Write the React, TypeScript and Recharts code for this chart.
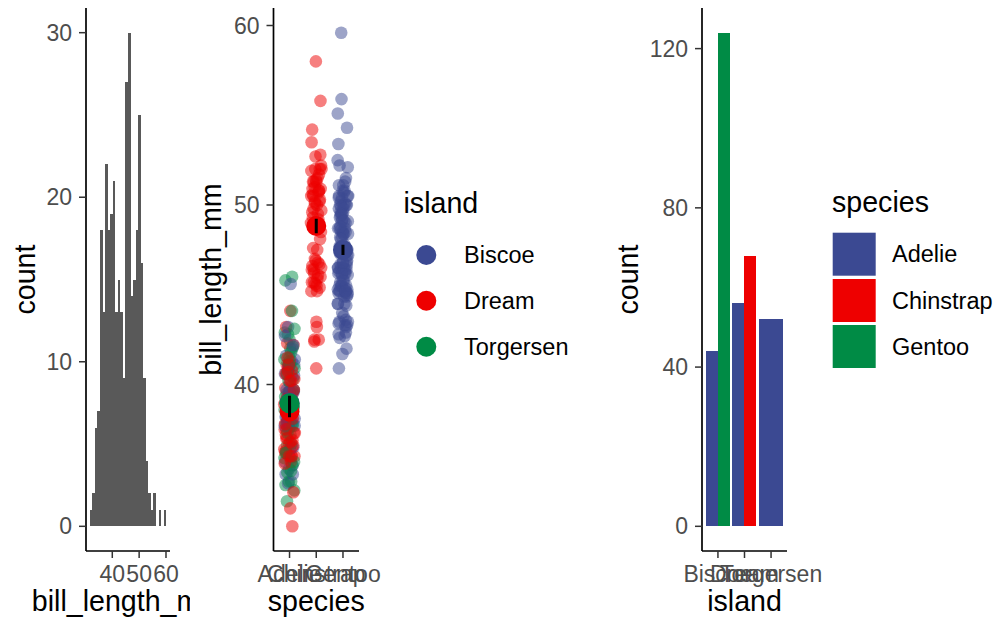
import React from 'react'
import { BarChart, Bar, Cell, XAxis, YAxis, ScatterChart, Scatter, Label } from 'recharts'

const FONT = '"Liberation Sans", Arial, Helvetica, sans-serif'
const BLUE = '#3B4992'
const RED = '#EE0000'
const GREEN = '#008B45'
const HIST_GREY = '#595959'

// --- panel 1: histogram of bill_length_mm, 30 bins ---
const histCounts = [1, 2, 6, 7, 18, 13, 22, 18, 19, 21, 13, 15, 13, 9, 27, 30, 14, 15, 18, 25, 16, 9, 4, 2, 1, 2, 0, 1, 0, 1]
const HIST_START = 31.626
const HIST_WIDTH = 0.9483

// --- panel 2: bill lengths, kept in the data's row order (year chunks) ---
const adelieTorgersen07 = [39.1, 39.5, 40.3, 36.7, 39.3, 38.9, 39.2, 34.1, 42.0, 37.8, 37.8, 41.1, 38.6, 34.6, 36.6, 38.7, 42.5, 34.4, 46.0]
const adelieBiscoe07 = [37.8, 37.7, 35.9, 38.2, 38.8, 35.3, 40.6, 40.5, 37.9, 40.5]
const adelieDream07 = [39.5, 37.2, 39.5, 40.9, 36.4, 39.2, 38.8, 42.2, 37.6, 39.8, 36.5, 40.8, 36.0, 44.1, 37.0, 39.6, 41.1, 37.5, 36.0, 42.3]
const adelieBiscoe08 = [39.6, 40.1, 35.0, 42.0, 34.5, 41.4, 39.0, 40.6, 36.5, 37.6, 35.7, 41.3, 37.6, 41.1, 36.4, 41.6, 35.5, 41.1]
const adelieTorgersen08 = [35.9, 41.8, 33.5, 39.7, 39.6, 45.8, 35.5, 42.8, 40.9, 37.2, 36.2, 42.1, 34.6, 42.9, 36.7, 35.1]
const adelieDream08 = [37.3, 41.3, 36.3, 36.9, 38.3, 38.9, 35.7, 41.1, 34.0, 39.6, 36.2, 40.8, 38.1, 40.3, 33.1, 43.2]
const adelieBiscoe09 = [35.0, 41.0, 37.7, 37.8, 37.9, 39.7, 38.6, 38.2, 38.1, 43.2, 38.1, 45.6, 39.7, 42.2, 39.6, 42.7]
const adelieTorgersen09 = [38.6, 37.3, 35.7, 41.1, 36.2, 37.7, 40.2, 41.4, 35.2, 40.6, 38.8, 41.5, 39.0, 44.1, 38.5, 43.1]
const adelieDream09 = [36.8, 37.5, 38.1, 41.1, 35.6, 40.2, 37.0, 39.7, 40.2, 40.6, 32.1, 40.7, 37.3, 39.0, 39.2, 36.6, 36.0, 37.8, 36.0, 41.5]
const gentooBiscoe = [
  46.1, 50.0, 48.7, 50.0, 47.6, 46.5, 45.4, 46.7, 43.3, 46.8, 40.9, 49.0, 45.5, 48.4, 45.8, 49.3, 42.0, 49.2, 46.2, 48.7,
  50.2, 45.1, 46.5, 46.3, 42.9, 46.1, 44.5, 47.8, 48.2, 50.0, 47.3, 42.8, 45.1, 59.6, 49.1, 48.4, 42.6, 44.4, 44.0, 48.7,
  42.7, 49.6, 45.3, 49.6, 50.5, 43.6, 45.5, 50.5, 44.9, 45.2, 46.6, 48.5, 45.1, 50.1, 46.5, 45.0, 43.8, 45.5, 43.2, 50.4,
  45.3, 46.2, 45.7, 54.3, 45.8, 49.8, 46.2, 49.5, 43.5, 50.7, 47.7, 46.4, 48.2, 46.5, 46.4, 48.6, 47.5, 51.1, 45.2, 45.2,
  49.1, 52.5, 47.4, 50.0, 44.9, 50.8, 43.4, 51.3, 47.5, 52.1, 47.5, 52.2, 45.5, 49.5, 44.5, 50.8, 49.4, 46.9, 48.4, 51.1,
  48.5, 55.9, 47.2, 49.1, 47.3, 46.8, 41.7, 53.4, 43.3, 48.1, 50.5, 49.8, 43.5, 51.5, 46.2, 55.1, 44.5, 48.8, 47.2, 46.8,
  50.4, 45.2, 49.9,
]
const chinstrapDream = [
  46.5, 50.0, 51.3, 45.4, 52.7, 45.2, 46.1, 51.3, 46.0, 51.3, 46.6, 51.7, 47.0, 52.0, 45.9, 50.5, 50.3, 58.0, 46.4, 49.2,
  42.4, 48.5, 43.2, 50.6, 46.7, 52.0, 50.5, 49.5, 46.4, 52.8, 40.9, 54.2, 42.5, 51.0, 49.7, 47.5, 47.6, 52.0, 46.9, 53.5,
  49.0, 46.2, 50.9, 45.5, 50.9, 50.8, 50.1, 49.0, 51.5, 49.8, 48.1, 51.4, 45.7, 50.7, 42.5, 52.2, 45.2, 49.3, 50.2, 45.6,
  51.9, 46.8, 45.7, 55.8, 43.5, 49.6, 50.8, 50.2,
]

// summary per species x island (mean, standard error)
const meanSpecies = [1, 1, 1, 2, 3]
const meanIsland = ['Biscoe', 'Dream', 'Torgersen', 'Dream', 'Biscoe']
const meanValues = [38.98, 38.5, 38.95, 48.83, 47.5]
const meanSe = [0.37, 0.33, 0.43, 0.41, 0.28]

// --- panel 3: counts per island ---
const islands = ['Biscoe', 'Dream', 'Torgersen']
const adelieCounts = [44, 56, 52]
const chinstrapCounts = [0, 68, 0]
const gentooCounts = [124, 0, 0]

const speciesNames = ['Adelie', 'Chinstrap', 'Gentoo']
const islandColor: Record<string, string> = { Biscoe: BLUE, Dream: RED, Torgersen: GREEN }

const histData = histCounts.map((count, i) => ({ mid: HIST_START + HIST_WIDTH * (i + 0.5), count }))

const pointGroups = [
  { island: 'Torgersen', species: 1, values: adelieTorgersen07 },
  { island: 'Biscoe', species: 1, values: adelieBiscoe07 },
  { island: 'Dream', species: 1, values: adelieDream07 },
  { island: 'Biscoe', species: 1, values: adelieBiscoe08 },
  { island: 'Torgersen', species: 1, values: adelieTorgersen08 },
  { island: 'Dream', species: 1, values: adelieDream08 },
  { island: 'Biscoe', species: 1, values: adelieBiscoe09 },
  { island: 'Torgersen', species: 1, values: adelieTorgersen09 },
  { island: 'Dream', species: 1, values: adelieDream09 },
  { island: 'Biscoe', species: 3, values: gentooBiscoe },
  { island: 'Dream', species: 2, values: chinstrapDream },
]

// deterministic jitter (golden ratio steps), +-0.2 of a category
let jitterIdx = 0
const jitteredGroups = pointGroups.map((g) => ({
  color: islandColor[g.island],
  data: g.values.map((y) => {
    jitterIdx += 1
    return { x: g.species + (((jitterIdx * 0.6180339887) % 1) - 0.5) * 0.4, y }
  }),
}))

const meanData = meanValues.map((y, i) => ({ x: meanSpecies[i], y, color: islandColor[meanIsland[i]] }))

// mean +- se as two-point segments
const seSegments = meanValues.map((m, i) => [
  { x: meanSpecies[i], y: m - meanSe[i] },
  { x: meanSpecies[i], y: m + meanSe[i] },
])

const barTable = islands.map((island, i) => {
  const other = gentooCounts[i] || chinstrapCounts[i]
  return {
    island,
    left: adelieCounts[i],
    right: other || adelieCounts[i],
    rightColor: gentooCounts[i] ? GREEN : chinstrapCounts[i] ? RED : BLUE,
  }
})

const tickText = { fill: '#4D4D4D', fontSize: 23, fontFamily: FONT }
const axisLine = { stroke: '#000000', strokeWidth: 1.7 }
const tickLine = { stroke: '#333333', strokeWidth: 1.5 }

const xTitle = (text: string) => (props: any) => {
  const vb = props.viewBox || { x: 0, width: 0 }
  return (
    <text x={vb.x + vb.width / 2} y={611} textAnchor="middle" fontSize={28.6} fontFamily={FONT} fill="#000">
      {text}
    </text>
  )
}

// x is in the panel's own coordinates
const yTitle = (text: string, x: number) => (props: any) => {
  const vb = props.viewBox || { y: 8, height: 543 }
  const cy = vb.y + vb.height / 2
  return (
    <text x={x} y={cy} transform={`rotate(-90 ${x} ${cy})`} textAnchor="middle" fontSize={28.6} fontFamily={FONT} fill="#000">
      {text}
    </text>
  )
}

function HistPanel() {
  return (
    <BarChart width={190} height={623} data={histData} margin={{ top: 8, right: 20, bottom: 32, left: 0 }} barGap={0}>
      <XAxis
        dataKey="mid"
        type="number"
        domain={[30.21, 61.49]}
        ticks={[40, 50, 60]}
        allowDataOverflow
        interval={0}
        height={40}
        tick={tickText}
        tickSize={7}
        tickMargin={8}
        axisLine={axisLine}
        tickLine={tickLine}
      >
        <Label content={xTitle('bill_length_mm')} />
      </XAxis>
      <YAxis
        type="number"
        domain={[-1.5, 31.5]}
        ticks={[0, 10, 20, 30]}
        allowDataOverflow
        interval={0}
        width={86}
        tick={tickText}
        tickSize={7}
        tickMargin={7}
        axisLine={axisLine}
        tickLine={tickLine}
      >
        <Label content={yTitle('count', 35)} />
      </YAxis>
      <Bar dataKey="count" fill={HIST_GREY} barSize={2.54} shapeRendering="crispEdges" isAnimationActive={false} />
    </BarChart>
  )
}

function JitterPanel() {
  return (
    <ScatterChart width={200} height={623} margin={{ top: 8, right: 31, bottom: 32, left: 0 }}>
      <XAxis
        dataKey="x"
        type="number"
        domain={[0.4, 3.6]}
        ticks={[1, 2, 3]}
        tickFormatter={(v: number) => speciesNames[v - 1]}
        allowDataOverflow
        interval={0}
        height={40}
        tick={tickText}
        tickSize={7}
        tickMargin={8}
        axisLine={axisLine}
        tickLine={tickLine}
      >
        <Label content={xTitle('species')} />
      </XAxis>
      <YAxis
        dataKey="y"
        type="number"
        domain={[30.725, 60.975]}
        ticks={[40, 50, 60]}
        allowDataOverflow
        interval={0}
        width={83.5}
        tick={tickText}
        tickSize={7}
        tickMargin={7}
        axisLine={axisLine}
        tickLine={tickLine}
      >
        <Label content={yTitle('bill_length_mm', 31)} />
      </YAxis>
      {jitteredGroups.map((g, i) => (
        <Scatter
          key={i}
          data={g.data}
          isAnimationActive={false}
          shape={(p: any) => <circle cx={p.cx} cy={p.cy} r={6.3} fill={g.color} fillOpacity={0.5} />}
        />
      ))}
      <Scatter
        data={meanData}
        isAnimationActive={false}
        shape={(p: any) => <circle cx={p.cx} cy={p.cy} r={10} fill={p.payload.color} />}
      />
      {seSegments.map((seg, i) => (
        <Scatter
          key={'se' + i}
          data={seg}
          isAnimationActive={false}
          line={{ stroke: '#000000', strokeWidth: 3 }}
          shape={() => <g />}
        />
      ))}
    </ScatterChart>
  )
}

function IslandPanel() {
  return (
    <BarChart width={230} height={623} data={barTable} margin={{ top: 8, right: 43, bottom: 32, left: 0 }} barGap={0}>
      <XAxis
        dataKey="island"
        padding={{ left: 2.66, right: 2.66 }}
        interval={0}
        height={40}
        tick={tickText}
        tickSize={7}
        tickMargin={8}
        axisLine={axisLine}
        tickLine={tickLine}
      >
        <Label content={xTitle('island')} />
      </XAxis>
      <YAxis
        type="number"
        domain={[-6.2, 130.2]}
        ticks={[0, 40, 80, 120]}
        allowDataOverflow
        interval={0}
        width={102}
        tick={tickText}
        tickSize={7}
        tickMargin={7}
        axisLine={axisLine}
        tickLine={tickLine}
      >
        <Label content={yTitle('count', 38)} />
      </YAxis>
      <Bar dataKey="left" barSize={11.95} fill={BLUE} shapeRendering="crispEdges" isAnimationActive={false} />
      <Bar dataKey="right" barSize={11.95} shapeRendering="crispEdges" isAnimationActive={false}>
        {barTable.map((d, i) => (
          <Cell key={i} fill={d.rightColor} />
        ))}
      </Bar>
    </BarChart>
  )
}

function IslandLegend() {
  const rows = [75, 120.7, 166.7]
  return (
    <svg width={210} height={200} style={{ position: 'absolute', left: 390, top: 180 }}>
      <text x={13.5} y={33} fontSize={28.6} fontFamily={FONT} fill="#000">island</text>
      {islands.map((name, i) => (
        <g key={name}>
          <circle cx={36.3} cy={rows[i]} r={10} fill={islandColor[name]} />
          <text x={74} y={rows[i]} dominantBaseline="central" fontSize={23.5} fontFamily={FONT} fill="#000">
            {name}
          </text>
        </g>
      ))}
    </svg>
  )
}

function SpeciesLegend() {
  const tops = [52.7, 99, 145]
  const colors = [BLUE, RED, GREEN]
  return (
    <svg width={178} height={200} style={{ position: 'absolute', left: 820, top: 180 }}>
      <text x={12} y={32} fontSize={28.6} fontFamily={FONT} fill="#000">species</text>
      {speciesNames.map((name, i) => (
        <g key={name}>
          <rect x={12.7} y={tops[i]} width={43} height={43} fill={colors[i]} />
          <text x={72} y={tops[i] + 21.5} dominantBaseline="central" fontSize={23.5} fontFamily={FONT} fill="#000">
            {name}
          </text>
        </g>
      ))}
    </svg>
  )
}

export default function App() {
  return (
    <div style={{ position: 'relative', width: 998, height: 623, background: '#fff', fontFamily: FONT }}>
      <style>{'body{margin:0}'}</style>
      <div style={{ position: 'absolute', left: 0, top: 0 }}>
        <HistPanel />
      </div>
      <div style={{ position: 'absolute', left: 190, top: 0 }}>
        <JitterPanel />
      </div>
      <IslandLegend />
      <div style={{ position: 'absolute', left: 600, top: 0 }}>
        <IslandPanel />
      </div>
      <SpeciesLegend />
    </div>
  )
}
